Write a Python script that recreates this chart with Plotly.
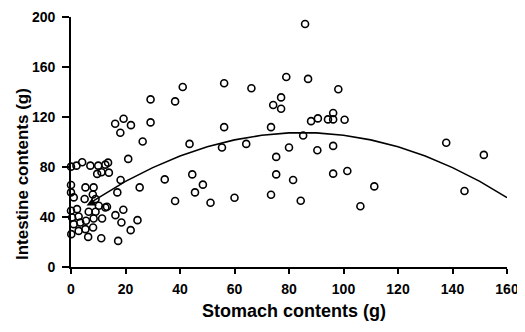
import plotly.graph_objects as go

# Observed points (stomach contents g, intestine contents g)
stomach = [
    0, 2, 4.1, 7.1, 10, 12.6, 13.6, 11.2, 9.6, 13.9, 21,
    0, 5.3, 8.3, 18.2, 17, 25.2,
    0, 1, 5, 9, 8, 12.6, 19.2, 16.3, 18.5, 24.4, 21.9, 17.3, 11.1, 6.3, 8.1, 5.3, 2.8,
    0.1, 1, 3.4, 5.5, 8.3, 11.4, 0.4, 2.8, 6.5, 9, 0, 10.2, 2.2, 13.2,
    19.3, 16.2, 22, 18.1, 29.2, 29.2, 38.2, 41, 26.3, 43.5,
    34.4, 44.5, 48.4, 45.5, 38.2, 51.2,
    56.2, 66.2, 79, 87, 98.1, 77.1, 74.2, 77.1, 56.2, 73.4, 88.1, 90.6, 94.3, 96.2, 96.2,
    100.4, 85.2, 85.9,
    55.4, 64.3, 75.3, 80, 90.4, 96.2, 75.3, 81.5, 96.2, 101.4, 60, 73.4, 84.3, 106.2,
    111.3, 137.7, 151.5, 144.4,
]
intestine = [
    80.3, 81.1, 83.8, 81.1, 81.1, 81.9, 83.5, 75.8, 74.5, 75.5, 86.5,
    65.6, 63.7, 63.7, 69.6, 59.7, 63.7,
    59.7, 55.7, 54.4, 54.4, 58, 47.6, 45.8, 41.5, 35.6, 37.5, 29.5, 20.9, 23, 24.1, 31.6, 30.3, 28.9,
    26.3, 34.3, 35.6, 37, 38.8, 38.8, 39.6, 40.4, 44.2, 44.2, 45, 49, 46.3, 48.2,
    118.6, 114.6, 113.5, 107.4, 115.7, 134.1, 132.5, 144, 100.4, 98.5,
    70.1, 74.1, 65.9, 59.7, 52.8, 51.4,
    147, 143, 152, 150.5, 142.2, 135.7, 129.6, 126.6, 111.9, 111.9, 116.7, 118.9, 118.1, 123.2, 118.1,
    117.8, 105.2, 194.4,
    95.6, 98.5, 88.1, 95.6, 93.4, 96.9, 74.1, 69.6, 74.7, 76.8, 55.4, 57.8, 53, 48.6,
    64.5, 99.4, 89.7, 60.8,
]

# Mean marker
mean_x = [7.6]
mean_y = [51]

# Fitted curve
curve_x = [7.6, 20, 30, 40, 50, 60, 70, 80, 90, 100, 110, 120, 130, 140, 150, 160]
curve_y = [52.1, 68.5, 79.5, 88.8, 96.2, 101.7, 105.4, 107.3, 107.3, 105.4, 101.7,
           96.2, 88.8, 79.5, 68.5, 55.5]

x_ticks = [0, 20, 40, 60, 80, 100, 120, 140, 160]
y_ticks = [0, 40, 80, 120, 160, 200]

fig = go.Figure()
fig.add_trace(go.Scatter(
    x=curve_x, y=curve_y, mode="lines",
    line=dict(color="black", width=1.6), cliponaxis=False, hoverinfo="skip"))
fig.add_trace(go.Scatter(
    x=stomach, y=intestine, mode="markers", cliponaxis=False,
    marker=dict(symbol="circle-open", size=7, color="black", line=dict(width=1.6))))
fig.add_trace(go.Scatter(
    x=mean_x, y=mean_y, mode="markers", cliponaxis=False,
    marker=dict(symbol="triangle-up", size=9, color="black")))

tick_font = dict(family="Arial, Liberation Sans", size=14, color="black", weight="bold")
axis_common = dict(
    showline=True, linecolor="black", linewidth=1.6, mirror=False,
    ticks="outside", tickcolor="black", tickwidth=1.5, automargin=False,
    showgrid=False, zeroline=False, tickfont=tick_font, ticklabeloverflow="allow",
)

fig.update_xaxes(range=[0, 160], tickvals=x_ticks, ticklen=5, ticklabelstandoff=3, **axis_common)
fig.update_yaxes(range=[0, 200], tickvals=y_ticks, ticklen=7, ticklabelstandoff=4, **axis_common)

# page body has an 8px margin, so the figure is drawn 8px in from the window corner
fig.update_layout(
    width=517, height=324,
    margin=dict(l=63, r=18, t=9, b=65),
    paper_bgcolor="white", plot_bgcolor="white",
    showlegend=False,
    annotations=[
        dict(text="Stomach contents (g)", xref="paper", yref="paper",
             x=0.511, y=-0.176, xanchor="center", yanchor="middle", showarrow=False,
             font=dict(family="Arial, Liberation Sans", size=18, color="black", weight="bold")),
        dict(text="Intestine contents (g)", xref="paper", yref="paper",
             x=-0.1124, y=0.372, xanchor="center", yanchor="middle", showarrow=False,
             textangle=-90,
             font=dict(family="Arial, Liberation Sans", size=17, color="black", weight="bold")),
    ],
)

fig.write_html("out.html")
